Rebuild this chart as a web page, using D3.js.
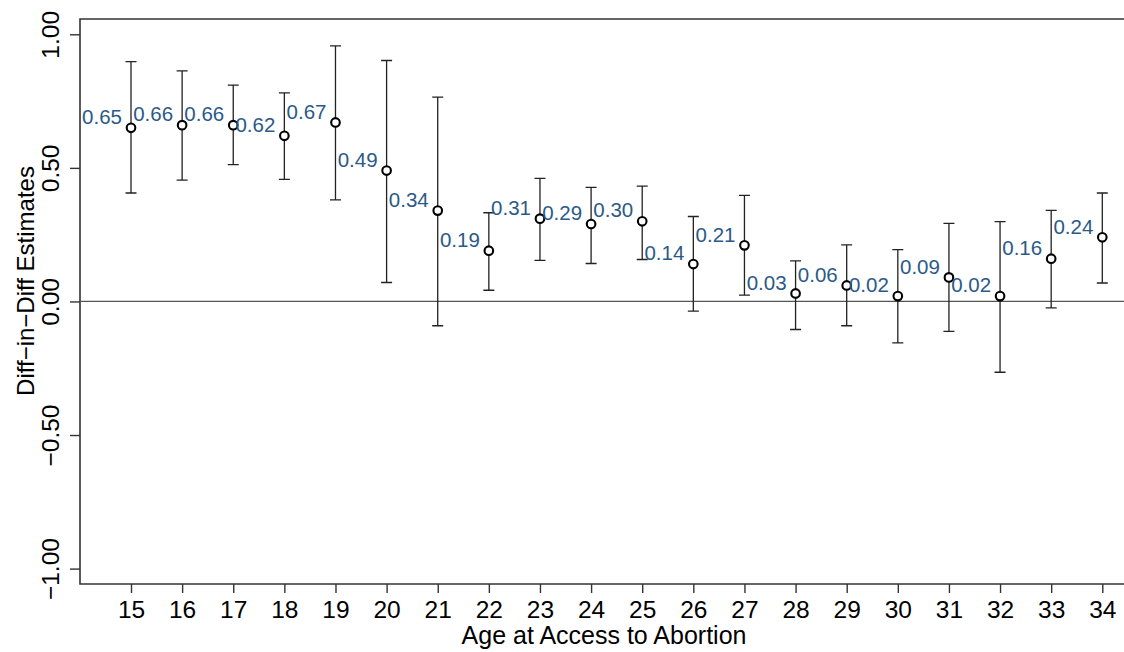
<!DOCTYPE html>
<html>
<head>
<meta charset="utf-8">
<script src="https://cdn.jsdelivr.net/npm/d3@7"></script>
<style>
  html, body { margin: 0; padding: 0; background: #fff; }
  svg { display: block; font-family: "Liberation Sans", Arial, Helvetica, sans-serif; }
</style>
</head>
<body>
<svg id="chart" width="1124" height="652"></svg>
<script>
// Age at which access to abortion was granted
const ages = [15, 16, 17, 18, 19, 20, 21, 22, 23, 24, 25, 26, 27, 28, 29, 30, 31, 32, 33, 34];
// Difference-in-differences point estimates
const estimates = [0.65, 0.66, 0.66, 0.62, 0.67, 0.49, 0.34, 0.19, 0.31, 0.29, 0.30, 0.14, 0.21, 0.03, 0.06, 0.02, 0.09, 0.02, 0.16, 0.24];
// 95% confidence interval bounds
const ciUpper = [0.898, 0.863, 0.810, 0.781, 0.957, 0.902, 0.765, 0.332, 0.461, 0.427, 0.432, 0.318, 0.397, 0.152, 0.212, 0.194, 0.292, 0.299, 0.341, 0.406];
const ciLower = [0.406, 0.454, 0.512, 0.457, 0.380, 0.071, -0.091, 0.042, 0.154, 0.142, 0.157, -0.036, 0.024, -0.105, -0.091, -0.155, -0.112, -0.265, -0.024, 0.069];
// Y axis ticks
const yTicks = [-1, -0.5, 0, 0.5, 1];

const data = ages.map((a, i) => ({ age: a, est: estimates[i], lo: ciLower[i], hi: ciUpper[i] }));

const svg = d3.select("#chart");
const W = 1124, H = 652;
const frame = { left: 80, top: 19, bottom: 584, right: 1128 };

const x = d3.scaleLinear().domain([15, 34]).range([131, 1102.3]);
const y = d3.scaleLinear().domain([-1, 1]).range([568.6, 34.3]);

svg.append("rect").attr("width", W).attr("height", H).attr("fill", "#fff");

// Plot frame (top, left, bottom; right edge runs past the canvas)
const frameColor = "#333";
svg.append("path")
  .attr("d", `M${W},${frame.top}H${frame.left}V${frame.bottom}H${W}`)
  .attr("fill", "none").attr("stroke", frameColor).attr("stroke-width", 1.6);

// Reference line at zero
svg.append("line")
  .attr("x1", frame.left).attr("x2", W)
  .attr("y1", y(0)).attr("y2", y(0))
  .attr("stroke", "#555").attr("stroke-width", 1.2);

// Y axis
const yAxis = svg.append("g")
  .attr("transform", `translate(${frame.left},0)`)
  .call(d3.axisLeft(y).tickValues(yTicks).tickFormat(d3.format(".2f")).tickSize(10).tickSizeOuter(0));
yAxis.select(".domain").remove();
yAxis.selectAll(".tick line").attr("stroke", frameColor).attr("stroke-width", 1.4);
yAxis.selectAll(".tick text")
  .attr("transform", "rotate(-90)")
  .attr("x", 0).attr("y", -21.5).attr("dy", 0)
  .attr("text-anchor", "middle")
  .attr("font-size", 24.5)
  .attr("fill", "#000");

// X axis
const xAxis = svg.append("g")
  .attr("transform", `translate(0,${frame.bottom})`)
  .call(d3.axisBottom(x).tickValues(ages).tickFormat(d3.format("d")).tickSize(9).tickSizeOuter(0));
xAxis.select(".domain").remove();
xAxis.selectAll(".tick line").attr("stroke", frameColor).attr("stroke-width", 1.4);
xAxis.selectAll(".tick text")
  .attr("y", 34).attr("dy", 0)
  .attr("font-size", 24.5)
  .attr("fill", "#000");

// Axis titles
svg.append("text")
  .attr("x", 604).attr("y", 644)
  .attr("text-anchor", "middle")
  .attr("font-size", 25)
  .attr("fill", "#000")
  .text("Age at Access to Abortion");

svg.append("text")
  .attr("transform", "translate(34,281) rotate(-90)")
  .attr("text-anchor", "middle")
  .attr("font-size", 24)
  .attr("fill", "#000")
  .text("Diff\u2212in\u2212Diff Estimates");

// Confidence interval whiskers
const capHalf = 5.5;
const bars = svg.append("g").attr("stroke", "#222").attr("stroke-width", 1.3).attr("fill", "none");
bars.selectAll("path")
  .data(data)
  .join("path")
  .attr("d", d => {
    const cx = x(d.age), yh = y(d.hi), yl = y(d.lo);
    return `M${cx},${yh}V${yl}M${cx - capHalf},${yh}H${cx + capHalf}M${cx - capHalf},${yl}H${cx + capHalf}`;
  });

// Point estimates
svg.append("g").selectAll("circle")
  .data(data)
  .join("circle")
  .attr("cx", d => x(d.age))
  .attr("cy", d => y(d.est))
  .attr("r", 4.3)
  .attr("fill", "#fff")
  .attr("stroke", "#000")
  .attr("stroke-width", 2.1);

// Value labels, placed up-left of each marker
svg.append("g").selectAll("text")
  .data(data)
  .join("text")
  .attr("x", d => x(d.age) - 9)
  .attr("y", d => y(d.est) - 11)
  .attr("dy", "0.35em")
  .attr("text-anchor", "end")
  .attr("font-size", 20.5)
  .attr("fill", "#2b5a88")
  .text(d => d3.format(".2f")(d.est));
</script>
</body>
</html>
